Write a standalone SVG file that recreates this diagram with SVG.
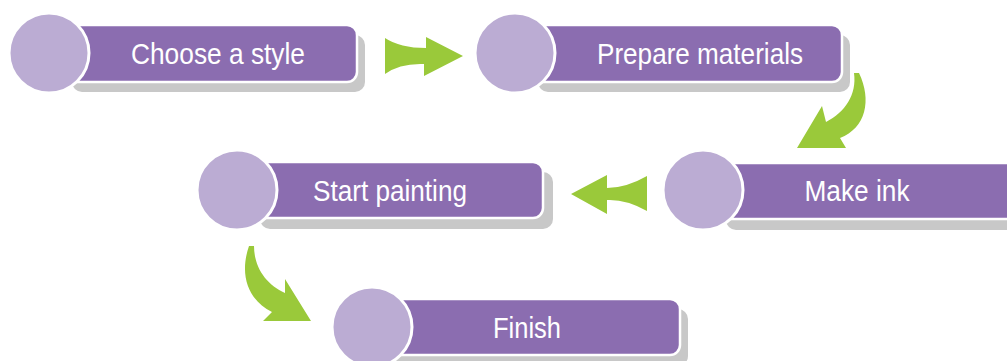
<svg xmlns="http://www.w3.org/2000/svg" width="1007" height="361" viewBox="0 0 1007 361">
<style>
.shadow{fill:#c8c8c8}
.bar{fill:#8b6db0;stroke:#ffffff;stroke-width:2.5}
.dot{fill:#bbacd3;stroke:#ffffff;stroke-width:3}
.lbl{font-family:"Liberation Sans",Arial,sans-serif;font-size:30px;fill:#ffffff;text-anchor:middle}
.arrow{fill:#9ac93a}
</style>
<rect width="1007" height="361" fill="#ffffff"/>
<g id="node-choose">
<rect class="shadow" x="72" y="35" width="293" height="57" rx="10"/>
<rect class="bar" x="64" y="25" width="293" height="57" rx="10"/>
<circle class="dot" cx="49" cy="53" r="40"/>
<text class="lbl" x="218" y="64" textLength="174" lengthAdjust="spacingAndGlyphs">Choose a style</text>
</g>
<g id="node-prepare">
<rect class="shadow" x="538" y="35" width="312" height="57" rx="10"/>
<rect class="bar" x="530" y="25" width="312" height="57" rx="10"/>
<circle class="dot" cx="515" cy="53" r="40"/>
<text class="lbl" x="700" y="64" textLength="206" lengthAdjust="spacingAndGlyphs">Prepare materials</text>
</g>
<g id="node-start">
<rect class="shadow" x="260" y="172" width="293" height="57" rx="10"/>
<rect class="bar" x="252" y="162" width="291" height="56" rx="10"/>
<circle class="dot" cx="237" cy="190" r="40"/>
<text class="lbl" x="390" y="201" textLength="154" lengthAdjust="spacingAndGlyphs">Start painting</text>
</g>
<g id="node-make">
<rect class="shadow" x="726" y="173" width="300" height="57" rx="10"/>
<rect class="bar" x="718" y="163" width="300" height="56" rx="10"/>
<circle class="dot" cx="703" cy="190" r="40"/>
<text class="lbl" x="857" y="201" textLength="105" lengthAdjust="spacingAndGlyphs">Make ink</text>
</g>
<g id="node-finish">
<rect class="shadow" x="395" y="309" width="293" height="57" rx="10"/>
<rect class="bar" x="387" y="299" width="293" height="56" rx="10"/>
<circle class="dot" cx="372" cy="327" r="40"/>
<text class="lbl" x="527" y="338" textLength="68" lengthAdjust="spacingAndGlyphs">Finish</text>
</g>
<g id="connectors">
<path class="arrow" d="M385,38 Q400,48 426,48 L426,37 L463,56 L424,76 L424,64 Q400,63 385,74 Z"/>
<path class="arrow" d="M854,73 L859,73 C872,100 866,128 840,138 L846,148 L797,148 L822,106 L826,122 C845,112 857,95 854,73 Z"/>
<path class="arrow" d="M647,176 Q626,188 607,188 L607,175 L571,194 L607,214 L607,200 Q626,199 647,211 Z"/>
<path class="arrow" d="M249,246 L254,246 C254,268 267,285 285,293 L285,279 L311,321 L263,321 L272,312 C248,300 239,275 249,246 Z"/>
</g>
</svg>
